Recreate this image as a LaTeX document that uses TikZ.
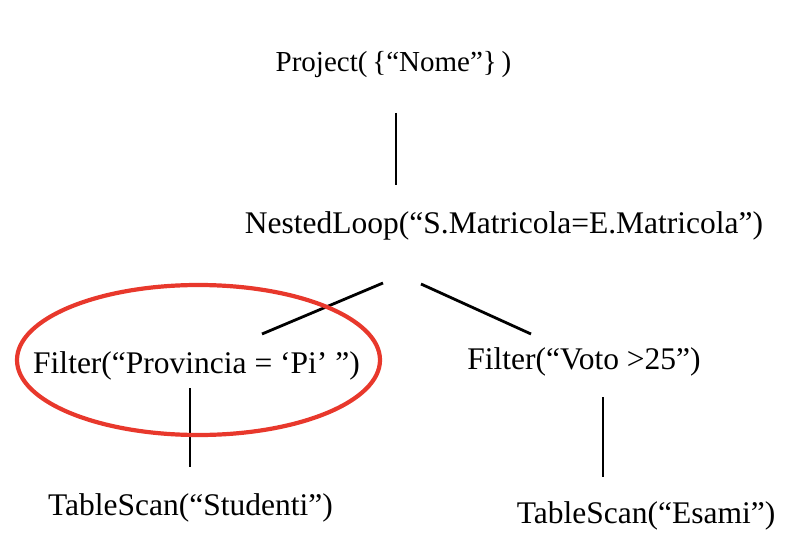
\documentclass[tikz,border=0pt]{standalone}
\usepackage{fontspec}
\setmainfont{Liberation Serif}
\usetikzlibrary{calc}
\definecolor{ringred}{RGB}{232,56,44}
\tikzset{
  op/.style={anchor=base, inner sep=0pt, font=\fontsize{31.5}{36}\selectfont},
  edge/.style={line width=2.8pt, black},
  ring/.style={line width=4.2pt, draw=ringred}
}
\begin{document}
\begin{tikzpicture}[x=1pt,y=-1pt]
\useasboundingbox (0,0) rectangle (802,548);
\node[op, font=\fontsize{29}{34}\selectfont] (proj) at (393.5,72) {Project(\,\{“Nome”\}\,)};
\node[op] (nl) at (504,233.5) {NestedLoop(“S.Matricola=E.Matricola”)};
\node[op] (fl) at (196.5,373) {Filter(“Provincia = ‘Pi’ ”)};
\node[op] (fr) at (584,369) {Filter(“Voto >25”)};
\node[op] (ts) at (190.5,515) {TableScan(“Studenti”)};
\node[op] (te) at (646,523) {TableScan(“Esami”)};
% connector end points
\coordinate (a1) at (396,113); \coordinate (a2) at (396,185);
\coordinate (b1) at (383,283); \coordinate (b2) at (262,334);
\coordinate (c1) at (421,284); \coordinate (c2) at (531,334);
\coordinate (d1) at (190,388); \coordinate (d2) at (190,467);
\coordinate (e1) at (603,397); \coordinate (e2) at (603,477);
\draw[edge] (a1) -- (a2);
\draw[edge] (b1) -- (b2);
\draw[edge] (c1) -- (c2);
\draw[edge] (d1) -- (d2);
\draw[edge] (e1) -- (e2);
\coordinate (ringc) at (198.5,360);
\draw[ring] (ringc) ellipse [x radius=181.5, y radius=75];
\end{tikzpicture}
\end{document}
